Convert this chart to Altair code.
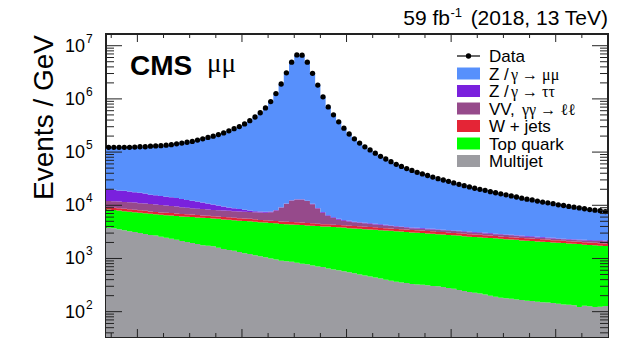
import altair as alt
import pandas as pd

# plot-area size in pixels
W, H = 502, 303
FONT = "Liberation Sans"
SERIF = "Liberation Serif"

# 1 GeV bins of dimuon mass, lower edges 54 ... 149 GeV
lo_edges = list(range(54, 150))
x_max = 150

# observed events / GeV per bin
data_counts = [
    123000, 123000, 123000, 123000, 123000, 124500, 126000, 126000, 129000, 130300,
    131800, 134900, 138000, 142900, 147900, 153100, 158500, 167900, 177800, 188400,
    199500, 213800, 229100, 251200, 275400, 302000, 338800, 389000, 457000, 549500,
    676100, 891300, 1259000, 1905000, 3090000, 4898000, 6700000, 6650000, 4898000, 3020000,
    1820000, 1096000, 707900, 501200, 371500, 281800, 218800, 177800, 147900, 125900,
    109600, 95500, 83200, 74100, 66100, 58900, 53700, 49000, 45200, 41700,
    38900, 36300, 33900, 31600, 29900, 28200, 26300, 24800, 23400, 22100,
    20900, 20000, 19100, 18000, 17200, 16400, 15700, 15000, 14300, 13600,
    13000, 12600, 12000, 11500, 11100, 10700, 10200, 9900, 9500, 9200,
    8900, 8600, 8300, 8100, 7900, 7600,
]

# upper edge of each component in the stacked prediction (cumulative, events / GeV)
stack_multijet = [
    3800, 3720, 3560, 3400, 3250, 3160, 3020, 2900, 2760, 2690,
    2560, 2460, 2340, 2250, 2130, 2050, 1950, 1870, 1780, 1740,
    1700, 1590, 1510, 1450, 1390, 1320, 1260, 1210, 1150, 1100,
    1050, 1000, 960, 910, 890, 870, 830, 800, 780, 740,
    710, 690, 650, 620, 600, 575, 550, 525, 500, 480,
    460, 440, 420, 400, 380, 365, 355, 345, 330, 325,
    320, 315, 305, 300, 290, 280, 270, 255, 245, 235,
    228, 220, 210, 200, 190, 183, 178, 174, 170, 166,
    160, 158, 154, 150, 148, 145, 141, 137, 135, 132,
    122, 129, 126, 123, 124, 128,
]
stack_top = [
    8318, 8128, 7943, 7762, 7586, 7413, 7244, 7079, 6918, 6761,
    6607, 6531, 6457, 6310, 6166, 6095, 6026, 5888, 5821, 5754,
    5623, 5559, 5433, 5370, 5248, 5129, 5070, 5012, 4898, 4786,
    4732, 4624, 4571, 4467, 4416, 4365, 4315, 4266, 4169, 4121,
    4074, 3981, 3981, 3890, 3846, 3802, 3715, 3673, 3631, 3548,
    3508, 3467, 3388, 3350, 3311, 3236, 3199, 3162, 3090, 3055,
    3020, 2951, 2917, 2851, 2818, 2754, 2723, 2692, 2630, 2570,
    2541, 2512, 2455, 2427, 2399, 2344, 2291, 2265, 2239, 2188,
    2163, 2138, 2089, 2065, 2042, 1995, 1972, 1950, 1905, 1884,
    1862, 1820, 1799, 1778, 1738, 1718,
]
stack_wjets = [
    9230, 9020, 8820, 8620, 8420, 8230, 8040, 7860, 7680, 7500,
    7330, 7250, 7170, 7000, 6840, 6770, 6690, 6540, 6460, 6390,
    6240, 6170, 6030, 5960, 5830, 5690, 5630, 5560, 5440, 5310,
    5250, 5130, 5070, 4960, 4900, 4850, 4790, 4740, 4630, 4570,
    4520, 4420, 4420, 4320, 4270, 4220, 4120, 4080, 4030, 3940,
    3890, 3850, 3760, 3720, 3680, 3590, 3550, 3510, 3430, 3390,
    3350, 3280, 3240, 3160, 3130, 3060, 3020, 2990, 2920, 2850,
    2820, 2790, 2730, 2690, 2660, 2600, 2540, 2510, 2490, 2430,
    2400, 2370, 2320, 2290, 2270, 2210, 2190, 2160, 2110, 2090,
    2070, 2020, 2000, 1970, 1930, 1910,
]
stack_vv = [
    12020, 11890, 11750, 11480, 11350, 11220, 10960, 10840, 10590, 10350,
    10120, 9886, 9661, 9441, 9226, 9016, 8810, 8610, 8511, 8318,
    8128, 8035, 7943, 7852, 7762, 7674, 7586, 7499, 7413, 7328,
    7244, 7413, 7943, 9120, 10720, 12300, 12880, 12880, 12020, 10470,
    8710, 7244, 6310, 5754, 5370, 5129, 4955, 4786, 4677, 4571,
    4467, 4365, 4266, 4169, 4074, 3981, 3890, 3802, 3715, 3673,
    3631, 3548, 3508, 3467, 3388, 3350, 3273, 3236, 3162, 3126,
    3055, 3020, 2951, 2917, 2851, 2818, 2754, 2723, 2661, 2630,
    2570, 2541, 2483, 2455, 2399, 2371, 2317, 2291, 2265, 2239,
    2213, 2188, 2163, 2138, 2138, 2113,
]
stack_tautau = [
    19950, 19500, 19050, 18840, 18200, 17580, 17180, 16600, 15850, 15490,
    14960, 14450, 14130, 13650, 13180, 12590, 12160, 11750, 11220, 10840,
    10350, 9886, 9441, 9120, 8810, 8511, 8222, 7943, 7762, 7674,
    7586, 7674, 8128, 9226, 10840, 12450, 13030, 13030, 12160, 10720,
    8913, 7499, 6531, 5957, 5559, 5309, 5129, 4920, 4810, 4700,
    4590, 4490, 4390, 4290, 4190, 4090, 4000, 3910, 3820, 3780,
    3730, 3650, 3610, 3560, 3480, 3440, 3360, 3330, 3250, 3210,
    3140, 3100, 3030, 3000, 2930, 2900, 2830, 2800, 2740, 2700,
    2640, 2610, 2550, 2520, 2470, 2440, 2380, 2360, 2330, 2300,
    2280, 2250, 2220, 2200, 2200, 2170,
]
# Z/gamma -> mumu fills the stack up to the total prediction
stack_mumu = data_counts

proc_names = ["Multijet", "Top quark", "W + jets", "VV, γγ → ℓℓ", "Z /γ → ττ", "Z /γ → μμ"]
proc_colors = ["#9c9ca1", "#00ff00", "#e42536", "#964a8b", "#7a21dd", "#5790fc"]
stack_edges = [stack_multijet, stack_top, stack_wjets, stack_vv, stack_tautau, stack_mumu]

# legend rows: sans-serif part, symbol part (drawn in a serif face), swatch colour
legend_sans = ["Data", "Z /", "Z /", "VV,", "W + jets", "Top quark", "Multijet"]
legend_greek = ["", "γ → μμ", "γ → ττ", "γγ → ℓℓ", "", "", ""]
legend_colors = [None, "#5790fc", "#7a21dd", "#964a8b", "#e42536", "#00ff00", "#9c9ca1"]

# axis tick positions
x_major = [60, 80, 100, 120, 140]
x_minor = [55, 65, 70, 75, 85, 90, 95, 105, 110, 115, 125, 130, 135, 145]
decades = [2, 3, 4, 5, 6, 7]
y_major = [10 ** d for d in decades]
y_minor = [m * 10 ** d for d in [1, 2, 3, 4, 5, 6, 7] for m in range(2, 10)
           if 33.4 < m * 10 ** d < 1.66e7]

x_scale = alt.Scale(domain=[54, x_max], nice=False, zero=False)
y_scale = alt.Scale(type="log", domain=[33.4, 1.66e7], nice=False)

# stacked histogram as step areas
rows = []
for k, (name, edge) in enumerate(zip(proc_names, stack_edges)):
    below = stack_edges[k - 1] if k else [1] * len(lo_edges)
    xs = lo_edges + [x_max]
    tops = list(edge) + [edge[-1]]
    bots = list(below) + [below[-1]]
    for x, t, b in zip(xs, tops, bots):
        rows.append({"m": x, "top": t, "bot": b, "proc": name})
stack_df = pd.DataFrame(rows)

stack = alt.Chart(stack_df).mark_area(interpolate="step-after", clip=True).encode(
    x=alt.X("m:Q", scale=x_scale, axis=None),
    y=alt.Y("top:Q", scale=y_scale, axis=None, stack=None),
    y2="bot:Q",
    color=alt.Color("proc:N", scale=alt.Scale(domain=proc_names, range=proc_colors), legend=None),
)

points_df = pd.DataFrame({"m": [x + 0.5 for x in lo_edges], "n": data_counts})
points = alt.Chart(points_df).mark_circle(size=28, color="black", opacity=1).encode(
    x=alt.X("m:Q", scale=x_scale, axis=None),
    y=alt.Y("n:Q", scale=y_scale, axis=None),
)

TICK = "#222222"


def xticks(values, length, bottom):
    y0, y1 = (H, H - length) if bottom else (0, length)
    return alt.Chart(pd.DataFrame({"v": values})).mark_rule(color=TICK, strokeWidth=1).encode(
        x=alt.X("v:Q", scale=x_scale, axis=None), y=alt.value(y0), y2=alt.value(y1))


def yticks(values, length, right):
    x0, x1 = (W, W - length) if right else (0, length)
    return alt.Chart(pd.DataFrame({"v": values})).mark_rule(color=TICK, strokeWidth=1).encode(
        y=alt.Y("v:Q", scale=y_scale, axis=None), x=alt.value(x0), x2=alt.value(x1))


ticks = [
    xticks(x_major, 8, False), xticks(x_minor, 4, False),
    xticks(x_major, 8, True), xticks(x_minor, 4, True),
    yticks(y_major, 16, False), yticks(y_minor, 8, False),
    yticks(y_major, 16, True), yticks(y_minor, 8, True),
]

label_df = pd.DataFrame({"v": y_major, "base": ["10"] * len(decades), "exp": [str(d) for d in decades]})
ylab_base = alt.Chart(label_df).mark_text(
    font=FONT, fontSize=18, align="right", baseline="middle", color="black", dy=1
).encode(y=alt.Y("v:Q", scale=y_scale, axis=None), x=alt.value(-21), text="base:N")
ylab_exp = alt.Chart(label_df).mark_text(
    font=FONT, fontSize=12, align="left", baseline="middle", color="black", dy=-7
).encode(y=alt.Y("v:Q", scale=y_scale, axis=None), x=alt.value(-20), text="exp:N")


def text_at(t, x, y, size, **kw):
    return alt.Chart(pd.DataFrame({"t": [t]})).mark_text(
        fontSize=size, color="black", **{"font": FONT, **kw}
    ).encode(text="t:N", x=alt.value(x), y=alt.value(y))


titles = [
    text_at("Events / GeV", -53, 1, 28, angle=270, align="right", baseline="alphabetic"),
    text_at("CMS", 24, 41, 28, fontWeight="bold", align="left", baseline="alphabetic"),
    text_at("μμ", 101, 38, 27, font=SERIF, align="left", baseline="alphabetic"),
    text_at("(2018, 13 TeV)", W, -9, 21, align="right", baseline="alphabetic"),
    text_at("-1", 356, -17, 13, align="right", baseline="alphabetic"),
    text_at("59 fb", 344, -9, 21, align="right", baseline="alphabetic"),
]

# legend, one row per entry
leg = []
LX0, LX1, LT, LY0, DY = 351, 374, 383, 22, 17.5
for i, (sans, greek, col) in enumerate(zip(legend_sans, legend_greek, legend_colors)):
    yc = LY0 + i * DY
    if col is None:
        leg.append(alt.Chart(pd.DataFrame({"t": [sans]})).mark_rule(color="black", strokeWidth=1.2).encode(
            x=alt.value(LX0), x2=alt.value(LX1), y=alt.value(yc)))
        leg.append(alt.Chart(pd.DataFrame({"t": [sans]})).mark_circle(size=28, color="black", opacity=1).encode(
            x=alt.value((LX0 + LX1) / 2), y=alt.value(yc)))
    else:
        leg.append(alt.Chart(pd.DataFrame({"t": [sans]})).mark_rect(color=col).encode(
            x=alt.value(LX0), x2=alt.value(LX1), y=alt.value(yc - 6), y2=alt.value(yc + 6)))
    leg.append(text_at(sans, LT, yc + 1, 17, align="left", baseline="middle"))
    if greek:
        gx = LT + (22 if sans == "Z /" else 33)
        leg.append(text_at(greek, gx, yc + 1, 16, font=SERIF, align="left", baseline="middle"))

chart = alt.layer(stack, points, *ticks, ylab_base, ylab_exp, *titles, *leg).properties(
    width=W, height=H,
    padding={"left": 106, "top": 34, "right": 20, "bottom": 3},
    autosize=alt.AutoSizeParams(type="none"),
    background="white",
).configure_view(stroke="#222222", strokeWidth=2)

chart.save("out.html", embed_options={"renderer": "svg", "actions": False})
